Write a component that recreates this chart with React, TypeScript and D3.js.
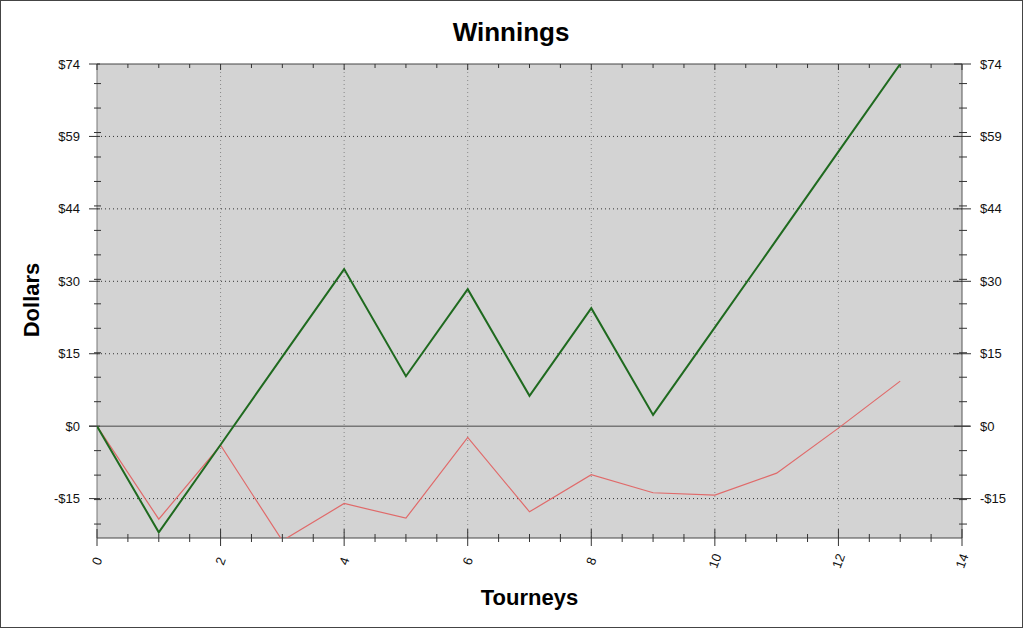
import * as d3 from "d3";

const tourneys = [0, 1, 2, 3, 4, 5, 6, 7, 8, 9, 10, 11, 12, 13];
const winnings = [0, -21.7, -3.8, 14.2, 32.1, 10.2, 28.0, 6.2, 24.1, 2.3, 20.2, 38.1, 56.1, 74];
const expected = [0, -19.0, -3.9, -23.4, -15.8, -18.8, -2.3, -17.5, -9.9, -13.6, -14.1, -9.6, -0.4, 9.2];

const xTicks = [0, 2, 4, 6, 8, 10, 12, 14];
const yTicks = [-14.8, 0, 14.8, 29.6, 44.4, 59.2, 74];
const yMinor = [-20, -15, -10, -5, 5, 10, 15, 20, 25, 30, 35, 40, 45, 50, 55, 60, 65, 70];

const W = 1023;
const H = 628;
const M = { left: 97, right: 962, top: 64, bottom: 538 };

const fmt = (v: number) => (v < 0 ? `-$${Math.round(-v)}` : `$${Math.round(v)}`);

export default function App() {
  const x = d3.scaleLinear().domain([0, 14]).range([M.left, M.right]);
  const y = d3.scaleLinear().domain([-22.85, 74]).range([M.bottom, M.top]);
  const xMinor = d3.range(0, 14.01, 0.5).filter((v) => v % 2 !== 0);

  const line = d3
    .line<number>()
    .x((_, i) => x(tourneys[i]))
    .y((d) => y(d));

  const font = "Arial, 'Liberation Sans', sans-serif";

  return (
    <>
      <style>{`body{margin:0}`}</style>
      <svg width={W} height={H} style={{ display: "block", fontFamily: font }}>
        <rect x={0.5} y={0.5} width={W - 1} height={H - 1} fill="#fff" stroke="#444" />
        <defs>
          <clipPath id="plot">
            <rect x={M.left} y={M.top} width={M.right - M.left} height={M.bottom - M.top} />
          </clipPath>
        </defs>
        <rect x={M.left} y={M.top} width={M.right - M.left} height={M.bottom - M.top} fill="#d3d3d3" />

        {/* vertical grid */}
        {xTicks.slice(1, -1).map((t) => (
          <line key={"gx" + t} x1={x(t)} x2={x(t)} y1={M.top} y2={M.bottom} stroke="#888" strokeDasharray="1,3" />
        ))}
        {/* horizontal grid */}
        {yTicks.filter((t) => t !== 0 && t !== 74).map((t) => (
          <line key={"gy" + t} x1={M.left} x2={M.right} y1={y(t)} y2={y(t)} stroke="#333" strokeDasharray="1,3" />
        ))}
        <line x1={M.left - 8} x2={M.right + 8} y1={y(0)} y2={y(0)} stroke="#777" strokeWidth={1.5} />

        {/* frame lines */}
        <line x1={M.left} x2={M.right} y1={M.top} y2={M.top} stroke="#444" />
        <line x1={M.left} x2={M.right} y1={M.bottom} y2={M.bottom} stroke="#444" />
        <line x1={M.left} x2={M.left} y1={M.top} y2={M.bottom} stroke="#777" />
        <line x1={M.right} x2={M.right} y1={M.top} y2={M.bottom} stroke="#555" />

        {/* y ticks */}
        {yMinor.map((t) => (
          <g key={"ym" + t} stroke="#333">
            <line x1={M.left - 3} x2={M.left + 4} y1={y(t)} y2={y(t)} />
            <line x1={M.right - 3} x2={M.right + 5} y1={y(t)} y2={y(t)} />
          </g>
        ))}
        {yTicks.map((t) => (
          <g key={"yt" + t}>
            <line x1={M.left - 8} x2={M.left + 3} y1={y(t)} y2={y(t)} stroke="#333" />
            <line x1={M.right - 8} x2={M.right + 9} y1={y(t)} y2={y(t)} stroke="#333" />
            <text x={80} y={y(t)} dy="0.35em" textAnchor="end" fontSize={13} fill="#111">
              {fmt(t)}
            </text>
            <text x={980} y={y(t)} dy="0.35em" textAnchor="start" fontSize={13} fill="#111">
              {fmt(t)}
            </text>
          </g>
        ))}

        {/* x ticks */}
        {xMinor.map((t) => (
          <g key={"xm" + t} stroke="#333">
            <line x1={x(t)} x2={x(t)} y1={M.bottom - 4} y2={M.bottom + 4} />
            <line x1={x(t)} x2={x(t)} y1={M.top} y2={M.top + 4} />
          </g>
        ))}
        {xTicks.map((t) => (
          <g key={"xt" + t}>
            <line x1={x(t)} x2={x(t)} y1={M.bottom - 9} y2={M.bottom + 8} stroke="#333" />
            <line x1={x(t)} x2={x(t)} y1={M.top} y2={M.top + 6} stroke="#333" />
            <text
              transform={`translate(${x(t)},${M.bottom + 23}) rotate(-70)`}
              textAnchor="middle"
              dy="0.35em"
              fontSize={13}
              fill="#111"
            >
              {t}
            </text>
          </g>
        ))}

        <g clipPath="url(#plot)" fill="none">
          <path d={line(expected) ?? ""} stroke="#e06a6a" strokeWidth={1.2} />
          <path d={line(winnings) ?? ""} stroke="#1f6a1f" strokeWidth={2} />
        </g>

        <text x={511} y={41} textAnchor="middle" fontSize={26} fontWeight="bold" fill="#000">
          Winnings
        </text>
        <text x={529.5} y={605} textAnchor="middle" fontSize={22} fontWeight="bold" fill="#000">
          Tourneys
        </text>
        <text transform="translate(39,300) rotate(-90)" textAnchor="middle" fontSize={22} fontWeight="bold" fill="#000">
          Dollars
        </text>
      </svg>
    </>
  );
}
